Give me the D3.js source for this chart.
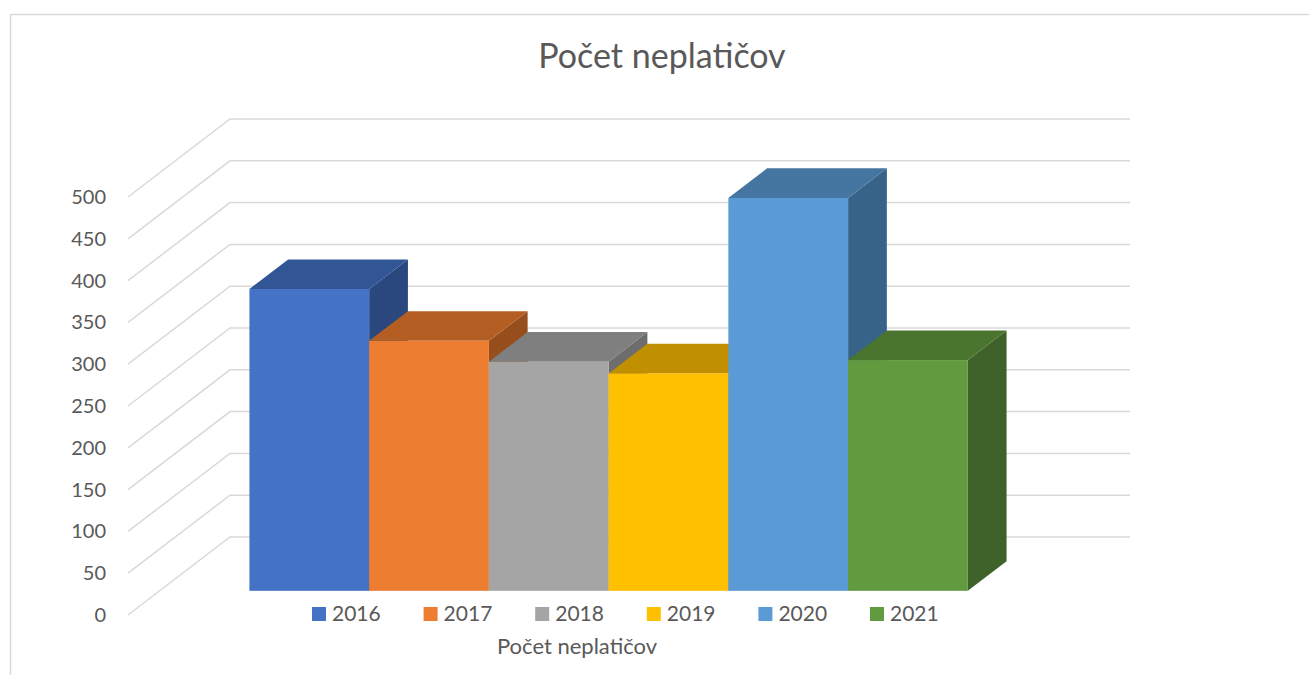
<!DOCTYPE html>
<html>
<head>
<meta charset="utf-8">
<script src="https://cdn.jsdelivr.net/npm/d3@7"></script>
<style>
  body { margin: 0; background: #fff; }
  svg { display: block; }
  text { font-family: Lato, "Open Sans", sans-serif; fill: #595959; }
</style>
</head>
<body>
<svg id="chart" width="1309" height="675"></svg>
<script>
// ===== DATA =====
const chartTitle = "Počet neplatičov";
const axisTitle = "Počet neplatičov";
const years = ["2016", "2017", "2018", "2019", "2020", "2021"];
const values = [361, 299, 274, 260, 470, 276];
const tickValues = [0, 50, 100, 150, 200, 250, 300, 350, 400, 450, 500];

const frontColors = ["#4472C4", "#ED7D31", "#A5A5A5", "#FFC000", "#5B9BD5", "#629B3F"];
const topColors   = ["#325595", "#B45E24", "#7F7F7F", "#C09000", "#4575A1", "#4A752F"];
const sideColors  = ["#2A487E", "#974E1D", "#6D6D6D", "#A37A00", "#386388", "#3E6229"];

// ===== LAYOUT =====
const svg = d3.select("#chart");

// depth of the 3D box (front plane -> back wall)
const depthX = 102, depthY = -78;
const barFront = 0.31, barBack = 0.69;

const y = d3.scaleLinear().domain([0, 500]).range([615, 197]);
const frontLeft = 128, frontRight = 1028;

const x = d3.scaleBand()
  .domain(years)
  .range([frontLeft + depthX * barFront, frontRight + depthX * barFront - 2])
  .paddingInner(0)
  .paddingOuter(0.75);

// chart border
svg.append("rect")
  .attr("x", 10.5).attr("y", 14.5)
  .attr("width", 1320).attr("height", 700)
  .attr("fill", "none")
  .attr("stroke", "#d9d9d9")
  .attr("stroke-width", 1.5);

// title
svg.append("text")
  .attr("x", 662).attr("y", 68)
  .attr("text-anchor", "middle")
  .style("font-size", "34px")
  .text(chartTitle);

// ===== GRIDLINES (floor diagonal + back wall) =====
const grid = svg.append("g")
  .attr("fill", "none")
  .attr("stroke", "#d9d9d9")
  .attr("stroke-width", 1.5);

grid.selectAll("path")
  .data(tickValues)
  .enter()
  .append("path")
  .attr("d", d => {
    const yf = y(d);
    return `M${frontLeft},${yf} L${frontLeft + depthX},${yf + depthY} L${frontRight + depthX},${yf + depthY}`;
  });

// axis labels
svg.append("g")
  .selectAll("text")
  .data(tickValues)
  .enter()
  .append("text")
  .attr("x", 106)
  .attr("y", d => y(d))
  .attr("dy", "0.35em")
  .attr("text-anchor", "end")
  .style("font-size", "20px")
  .text(d => d);

// ===== BARS =====
const offX0 = depthX * barFront, offY0 = depthY * barFront;
const bx = depthX * (barBack - barFront), by = depthY * (barBack - barFront);

const bars = svg.append("g")
  .selectAll("g")
  .data(years.map((yr, i) => ({ yr, v: values[i], i })))
  .enter()
  .append("g");

bars.each(function(d) {
  const g = d3.select(this);
  const x0 = x(d.yr), x1 = x0 + x.bandwidth();
  const yt = y(d.v) + offY0;
  const yb = y(0) + offY0;

  // side
  g.append("path")
    .attr("d", `M${x1},${yt} L${x1 + bx},${yt + by} L${x1 + bx},${yb + by} L${x1},${yb} Z`)
    .attr("fill", sideColors[d.i]);

  // top
  g.append("path")
    .attr("d", `M${x0},${yt} L${x1},${yt} L${x1 + bx},${yt + by} L${x0 + bx},${yt + by} Z`)
    .attr("fill", topColors[d.i]);

  // front
  g.append("rect")
    .attr("x", x0).attr("y", yt)
    .attr("width", x.bandwidth())
    .attr("height", yb - yt)
    .attr("fill", frontColors[d.i]);
});

// ===== LEGEND =====
const legend = svg.append("g")
  .selectAll("g")
  .data(years)
  .enter()
  .append("g")
  .attr("transform", (d, i) => `translate(${312 + i * 111.6},614)`);

legend.append("rect")
  .attr("x", 0).attr("y", -7)
  .attr("width", 14).attr("height", 14)
  .attr("fill", (d, i) => frontColors[i]);

legend.append("text")
  .attr("x", 20)
  .attr("dy", "0.35em")
  .style("font-size", "21px")
  .text(d => d);

// axis title
svg.append("text")
  .attr("x", 577).attr("y", 646)
  .attr("dy", "0.35em")
  .attr("text-anchor", "middle")
  .style("font-size", "22px")
  .text(axisTitle);
</script>
</body>
</html>
